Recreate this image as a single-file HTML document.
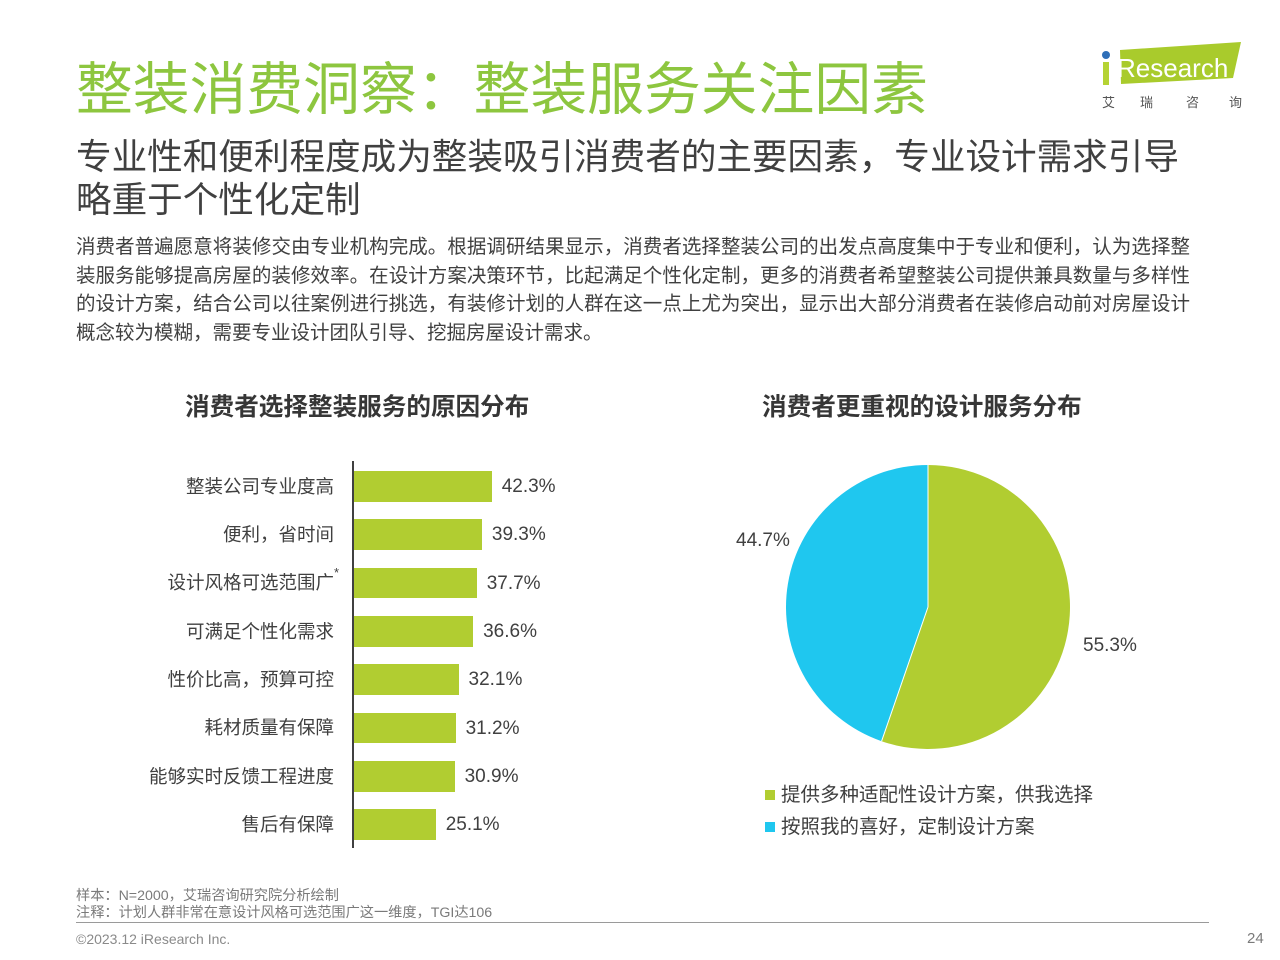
<!DOCTYPE html>
<html>
<head>
<meta charset="utf-8">
<style>
  html,body{margin:0;padding:0;}
  body{width:1280px;height:960px;position:relative;overflow:hidden;background:#ffffff;
    font-family:"Liberation Sans","Noto Sans CJK SC",sans-serif;color:#404040;}
  .t{position:absolute;white-space:nowrap;line-height:1;}
  .j{position:absolute;left:76px;width:1114px;line-height:1;white-space:nowrap;
     text-align:justify;text-align-last:justify;font-size:19.5px;color:#404040;}
  .lab{position:absolute;right:946px;white-space:nowrap;line-height:1;font-size:18.5px;color:#404040;text-align:right;}
  .val{position:absolute;white-space:nowrap;line-height:1;font-size:19px;color:#404040;}
  .bar{position:absolute;left:354px;height:30.7px;background:#b1cd31;}
</style>
</head>
<body>

<!-- Title -->
<div class="t" style="left:76px;top:63px;font-size:56.8px;color:#8dc63f;">整装消费洞察：整装服务关注因素</div>

<!-- Logo -->
<svg style="position:absolute;left:0;top:0;" width="1280" height="120">
  <polygon points="1120,50 1241,42 1233,78 1121,84" fill="#a9cb2c"/>
  <rect x="1103" y="62" width="6" height="23" fill="#b5d334"/>
  <circle cx="1106" cy="55" r="4" fill="#2f6fb8"/>
  <text x="1117" y="77" font-family="Liberation Sans, sans-serif" font-size="26" fill="#ffffff">Research</text>
</svg>
<div class="t" style="left:1102px;top:95.5px;font-size:13px;color:#555;">艾</div>
<div class="t" style="left:1140px;top:95.5px;font-size:13px;color:#555;">瑞</div>
<div class="t" style="left:1186px;top:95.5px;font-size:13px;color:#555;">咨</div>
<div class="t" style="left:1229px;top:95.5px;font-size:13px;color:#555;">询</div>

<!-- Subtitle -->
<div class="t" style="left:76px;top:140px;font-size:35.6px;color:#404040;">专业性和便利程度成为整装吸引消费者的主要因素，专业设计需求引导</div>
<div class="t" style="left:76px;top:183px;font-size:35.6px;color:#404040;">略重于个性化定制</div>

<!-- Body -->
<div class="j" style="top:238px;">消费者普遍愿意将装修交由专业机构完成。根据调研结果显示，消费者选择整装公司的出发点高度集中于专业和便利，认为选择整</div>
<div class="j" style="top:266.5px;">装服务能够提高房屋的装修效率。在设计方案决策环节，比起满足个性化定制，更多的消费者希望整装公司提供兼具数量与多样性</div>
<div class="j" style="top:295px;">的设计方案，结合公司以往案例进行挑选，有装修计划的人群在这一点上尤为突出，显示出大部分消费者在装修启动前对房屋设计</div>
<div class="t" style="left:76px;top:323.5px;font-size:19.5px;color:#404040;">概念较为模糊，需要专业设计团队引导、挖掘房屋设计需求。</div>

<!-- Chart titles -->
<div class="t" style="left:185px;top:395.5px;font-size:24.6px;font-weight:bold;color:#363636;">消费者选择整装服务的原因分布</div>
<div class="t" style="left:762px;top:395.5px;font-size:24.6px;font-weight:bold;color:#363636;">消费者更重视的设计服务分布</div>

<!-- Bar chart -->
<div style="position:absolute;left:352px;top:461px;width:1.5px;height:387px;background:#404040;"></div>

<div class="bar" style="top:471px;width:137.7px;"></div>
<div class="bar" style="top:519.3px;width:127.9px;"></div>
<div class="bar" style="top:567.7px;width:122.7px;"></div>
<div class="bar" style="top:616px;width:119.1px;"></div>
<div class="bar" style="top:664.3px;width:104.5px;"></div>
<div class="bar" style="top:712.7px;width:101.6px;"></div>
<div class="bar" style="top:761px;width:100.6px;"></div>
<div class="bar" style="top:809.3px;width:81.7px;"></div>

<div class="lab" style="top:477.6px;">整装公司专业度高</div>
<div class="lab" style="top:525.9px;">便利，省时间</div>
<div class="lab" style="top:574.3px;">设计风格可选范围广</div>
<div class="t" style="left:334px;top:566px;font-size:13px;color:#404040;">*</div>
<div class="lab" style="top:622.6px;">可满足个性化需求</div>
<div class="lab" style="top:670.9px;">性价比高，预算可控</div>
<div class="lab" style="top:719.3px;">耗材质量有保障</div>
<div class="lab" style="top:767.6px;">能够实时反馈工程进度</div>
<div class="lab" style="top:815.9px;">售后有保障</div>

<div class="val" style="left:501.7px;top:477px;">42.3%</div>
<div class="val" style="left:491.9px;top:525.3px;">39.3%</div>
<div class="val" style="left:486.7px;top:573.7px;">37.7%</div>
<div class="val" style="left:483.1px;top:622px;">36.6%</div>
<div class="val" style="left:468.5px;top:670.3px;">32.1%</div>
<div class="val" style="left:465.6px;top:718.7px;">31.2%</div>
<div class="val" style="left:464.6px;top:767px;">30.9%</div>
<div class="val" style="left:445.7px;top:815.3px;">25.1%</div>

<!-- Pie chart -->
<svg style="position:absolute;left:0;top:0;" width="1280" height="960">
  <path d="M928,607 L928,465 A142,142 0 1,1 881.58,741.2 Z" fill="#b1cd31"/>
  <path d="M928,607 L881.58,741.2 A142,142 0 0,1 928,465 Z" fill="#1fc7ef"/>
  <line x1="928" y1="607" x2="928" y2="465" stroke="#ffffff" stroke-width="1"/>
  <line x1="928" y1="607" x2="881.58" y2="741.2" stroke="#ffffff" stroke-width="1"/>
</svg>
<div class="val" style="left:736px;top:530.7px;">44.7%</div>
<div class="val" style="left:1083px;top:635.7px;">55.3%</div>

<!-- Legend -->
<div style="position:absolute;left:765px;top:790px;width:10px;height:10px;background:#b1cd31;"></div>
<div class="t" style="left:781px;top:786px;font-size:19.5px;color:#404040;">提供多种适配性设计方案，供我选择</div>
<div style="position:absolute;left:765px;top:822px;width:10px;height:10px;background:#1fc7ef;"></div>
<div class="t" style="left:781px;top:818px;font-size:19.5px;color:#404040;">按照我的喜好，定制设计方案</div>

<!-- Footer -->
<div class="t" style="left:76px;top:888.5px;font-size:14.2px;color:#7a7a7a;">样本：N=2000，艾瑞咨询研究院分析绘制</div>
<div class="t" style="left:76px;top:905.5px;font-size:14.2px;color:#7a7a7a;">注释：计划人群非常在意设计风格可选范围广这一维度，TGI达106</div>
<div style="position:absolute;left:76px;top:921.5px;width:1133px;height:1.5px;background:#9a9a9a;"></div>
<div class="t" style="left:76px;top:932px;font-size:14px;color:#8a8a8a;">©2023.12 iResearch Inc.</div>
<div class="t" style="left:1247px;top:930.7px;font-size:15px;color:#7a7a7a;">24</div>

</body>
</html>
